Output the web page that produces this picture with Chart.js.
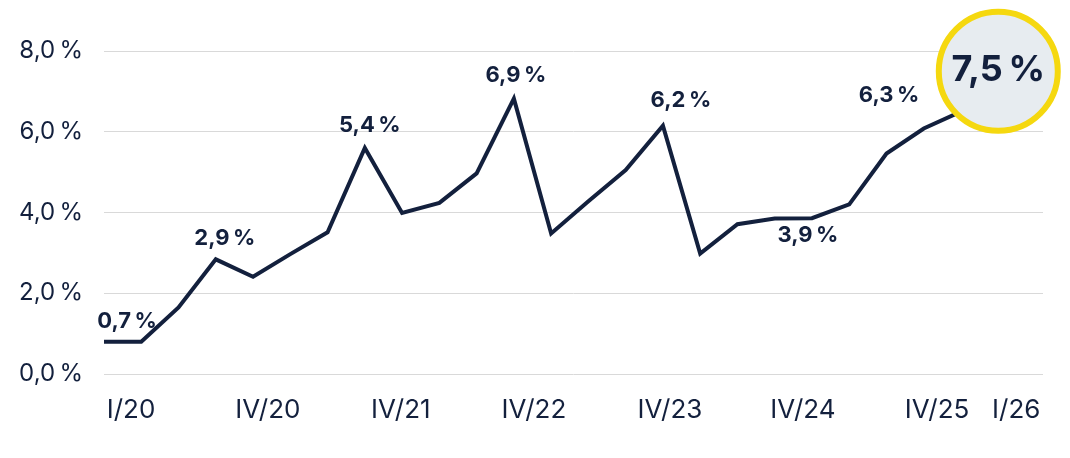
<!DOCTYPE html>
<html>
<head>
<meta charset="utf-8">
<script src="https://cdn.jsdelivr.net/npm/chart.js@4.4.1/dist/chart.umd.min.js"></script>
<style>
    html, body { margin: 0; padding: 0; background: #fff; }
    #wrap { width: 1070px; height: 458px; }
</style>
</head>
<body>
<div id="wrap"><canvas id="rateChart"></canvas></div>
<script>
// Data
const quarters = [
    'I/20', 'II/20', 'III/20', 'IV/20',
    'I/21', 'II/21', 'III/21', 'IV/21',
    'I/22', 'II/22', 'III/22', 'IV/22',
    'I/23', 'II/23', 'III/23', 'IV/23',
    'I/24', 'II/24', 'III/24', 'IV/24',
    'I/25', 'II/25', 'III/25', 'IV/25',
    'I/26'
];
const rates = [
    0.80, 0.80, 1.65, 2.84,
    2.41, 2.97, 3.51, 5.60,
    3.99, 4.24, 4.97, 6.82,
    3.48, 4.28, 5.05, 6.15,
    2.98, 3.71, 3.85, 3.86,
    4.20, 5.46, 6.08, 6.50,
    7.50
];
const callouts = [
    '0,7\u202F%', null, null, '2,9\u202F%',
    null, null, null, '5,4\u202F%',
    null, null, null, '6,9\u202F%',
    null, null, null, '6,2\u202F%',
    null, null, null, '3,9\u202F%',
    null, null, null, '6,3\u202F%',
    '7,5\u202F%'
];
const axisQuarters = ['I/20', 'IV/20', 'IV/21', 'IV/22', 'IV/23', 'IV/24', 'IV/25', 'I/26'];
const yTicks = [0, 2, 4, 6, 8];

// Styles
const NAVY = '#13203d';
const YELLOW = '#f5d80f';
const BUBBLE = '#e7ecf0';
const lastIdx = rates.length - 1;
// label offsets from their point (dx, dy)
const calloutOffset = {
    0: [23, -20], 3: [9, -21], 7: [5, -23], 11: [2, -23],
    15: [18, -25], 19: [-4, 17], 23: [-72, -16], 24: [0, -1]
};
// small nudges of the quarter labels under the axis
const axisLabelShift = [27, 52, 36, 20, 7, -9, -24, 18];

// Callout + axis label plugin
const calloutPlugin = {
    id: 'callouts',
    afterDatasetsDraw(chart) {
        const ctx = chart.ctx;
        const pts = chart.getDatasetMeta(0).data;
        ctx.save();
        ctx.fillStyle = NAVY;
        ctx.textAlign = 'center';
        ctx.textBaseline = 'middle';
        callouts.forEach((txt, i) => {
            if (!txt) return;
            const off = calloutOffset[i];
            ctx.font = i === lastIdx ? 'bold 36px Inter' : 'bold 22px Inter';
            ctx.fillText(txt, pts[i].x + off[0], pts[i].y + off[1]);
        });

        // quarter labels
        const xs = chart.scales.x;
        ctx.font = '26px Inter';
        axisQuarters.forEach((q, k) => {
            const i = quarters.indexOf(q);
            ctx.fillText(q, xs.getPixelForValue(i) + axisLabelShift[k], chart.chartArea.bottom + 36);
        });
        ctx.restore();
    }
};

// Build chart
const ctx = document.getElementById('rateChart');
new Chart(ctx, {
    type: 'line',
    data: {
        datasets: [{
            data: rates.map((v, i) => ({ x: i, y: v })),
            borderColor: NAVY,
            borderWidth: 4,
            borderJoinStyle: 'miter',
            tension: 0,
            clip: false,
            pointRadius: c => c.dataIndex === lastIdx ? 59.5 : 0,
            pointHoverRadius: c => c.dataIndex === lastIdx ? 59.5 : 0,
            pointBackgroundColor: BUBBLE,
            pointBorderColor: YELLOW,
            pointBorderWidth: 6,
            pointHoverBorderWidth: 6
        }]
    },
    options: {
        responsive: true,
        maintainAspectRatio: false,
        animation: false,
        events: [],
        layout: {
            autoPadding: false,
            padding: { left: 18, right: 27, top: 51, bottom: 84 }
        },
        plugins: {
            legend: { display: false },
            tooltip: { enabled: false }
        },
        scales: {
            x: {
                type: 'linear',
                display: false,
                min: 0,
                max: 25.2
            },
            y: {
                min: 0,
                max: 8,
                afterBuildTicks: axis => {
                    axis.ticks = yTicks.map(v => ({ value: v }));
                },
                afterFit: axis => {
                    axis.width = 86;
                },
                border: { display: false },
                grid: {
                    color: '#d9d9d9',
                    lineWidth: 1,
                    drawTicks: false
                },
                ticks: {
                    padding: 21,
                    color: NAVY,
                    font: { family: 'Inter', size: 24 },
                    callback: v => v.toFixed(1).replace('.', ',') + '\u202F%'
                }
            }
        }
    },
    plugins: [calloutPlugin]
});
</script>
</body>
</html>
